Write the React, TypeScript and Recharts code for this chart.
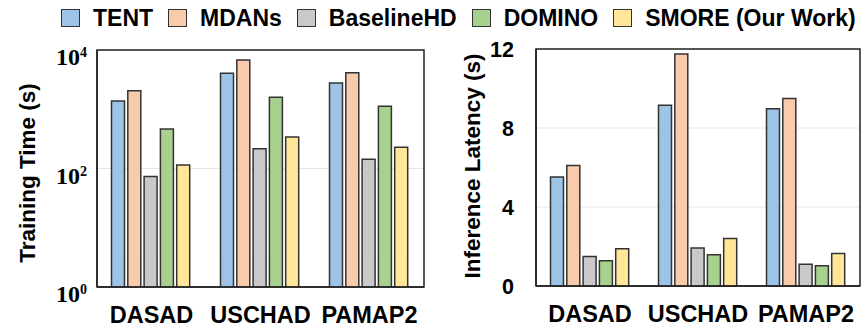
import React from "react"
import { BarChart, Bar, XAxis, YAxis, CartesianGrid, ReferenceArea } from "recharts"

// categories and series
const datasets = ["DASAD", "USCHAD", "PAMAP2"]
const methods = ["TENT", "MDANs", "BaselineHD", "DOMINO", "SMORE (Our Work)"]
const methodColors = ["#9DC3E6", "#F8CBAD", "#C9C9C9", "#A9D18E", "#FFE699"]

// training time (s), log scale
const trainTENT = [1380, 4050, 2770]
const trainMDANs = [2050, 6800, 4150]
const trainBaselineHD = [73, 215, 143]
const trainDOMINO = [465, 1590, 1125]
const trainSMORE = [115, 340, 228]

// inference latency (s)
const latTENT = [5.52, 9.15, 8.98]
const latMDANs = [6.1, 11.75, 9.49]
const latBaselineHD = [1.5, 1.92, 1.1]
const latDOMINO = [1.28, 1.58, 1.02]
const latSMORE = [1.89, 2.4, 1.65]

// tick values and labels
const trainTicks = [1, 100, 10000]
const trainTickExp = ["0", "2", "4"]
const latTicks = [0, 4, 8, 12]
const latTickLabels = ["0", "4", "8", "12"]

const keys = ["m0", "m1", "m2", "m3", "m4"]

const trainData = datasets.map((name, i) => ({
  name,
  m0: trainTENT[i],
  m1: trainMDANs[i],
  m2: trainBaselineHD[i],
  m3: trainDOMINO[i],
  m4: trainSMORE[i]
}))

const latData = datasets.map((name, i) => ({
  name,
  m0: latTENT[i],
  m1: latMDANs[i],
  m2: latBaselineHD[i],
  m3: latDOMINO[i],
  m4: latSMORE[i]
}))

const SANS = "'Liberation Sans', Arial, sans-serif"
const SERIF = "'Liberation Serif', 'Times New Roman', serif"
const EDGE = "#333"

function CategoryTick({ x, y, payload }: any) {
  return (
    <text x={x} y={y + 36} textAnchor="middle" fontFamily={SANS} fontWeight="bold" fontSize={23.5} fill="#000">
      {payload.value}
    </text>
  )
}

function LogTick({ x, y, payload }: any) {
  const idx = trainTicks.indexOf(payload.value)
  return (
    <text x={x - 10} y={y + 15} textAnchor="end" fontFamily={SERIF} fontWeight="bold" fontSize={24} fill="#000">
      <tspan>10</tspan>
      <tspan dy={-8} fontSize={14}>{trainTickExp[idx]}</tspan>
    </text>
  )
}

function LinearTick({ x, y, payload }: any) {
  const idx = latTicks.indexOf(payload.value)
  return (
    <text x={x - 22} y={y + 7.5} textAnchor="end" fontFamily={SANS} fontWeight="bold" fontSize={21.5} fill="#000">
      {latTickLabels[idx]}
    </text>
  )
}

function AxisTitle({ text, x, y }: { text: string; x: number; y: number }) {
  return (
    <text
      x={x}
      y={y}
      transform={`rotate(-90, ${x}, ${y})`}
      textAnchor="middle"
      dominantBaseline="central"
      fontFamily={SANS}
      fontWeight="bold"
      fontSize={22.5}
      fill="#000"
    >
      {text}
    </text>
  )
}

function Legend() {
  return (
    <div
      style={{
        position: "absolute",
        left: 61,
        top: 9,
        height: 18,
        display: "flex",
        alignItems: "center",
        gap: 15,
        fontFamily: SANS,
        fontWeight: "bold",
        fontSize: 23,
        whiteSpace: "nowrap"
      }}
    >
      {methods.map((m, i) => (
        <div key={m} style={{ display: "flex", alignItems: "center" }}>
          <div
            style={{
              width: 19,
              height: 18,
              boxSizing: "border-box",
              border: `1.5px solid ${EDGE}`,
              background: methodColors[i],
              marginRight: 13
            }}
          />
          <span style={{ lineHeight: "18px" }}>{m}</span>
        </div>
      ))}
    </div>
  )
}

export default function App() {
  return (
    <div style={{ position: "absolute", left: 0, top: 0, width: 861, height: 328, background: "#fff" }}>
      <Legend />

      {/* training time, log scale */}
      <div style={{ position: "absolute", left: 0, top: 0 }}>
        <BarChart
          width={440}
          height={328}
          data={trainData}
          margin={{ top: 50, right: 16, bottom: 0, left: 0 }}
          barCategoryGap={14.5}
          barGap={3.3}
        >
          <CartesianGrid vertical={false} stroke="#e6e6e6" />
          <ReferenceArea y1={1} y2={10000} fill="none" stroke="#222" strokeWidth={1.5} ifOverflow="visible" />
          <XAxis
            dataKey="name"
            height={41}
            tickLine={false}
            tickSize={0}
            tickMargin={0}
            axisLine={{ stroke: "#222", strokeWidth: 1.5 }}
            tick={<CategoryTick />}
          />
          <YAxis
            scale="log"
            domain={[1, 10000]}
            ticks={trainTicks}
            allowDataOverflow
            width={97}
            tickLine={false}
            tickSize={0}
            tickMargin={0}
            axisLine={{ stroke: "#222", strokeWidth: 1.5 }}
            tick={<LogTick />}
            label={{ content: () => <AxisTitle text="Training Time (s)" x={27} y={173} /> }}
          />
          {keys.map((k, i) => (
            <Bar
              key={k}
              dataKey={k}
              name={methods[i]}
              fill={methodColors[i]}
              stroke={EDGE}
              strokeWidth={1.5}
              isAnimationActive={false}
            />
          ))}
        </BarChart>
      </div>

      {/* inference latency */}
      <div style={{ position: "absolute", left: 440, top: 0 }}>
        <BarChart
          width={421}
          height={328}
          data={latData}
          margin={{ top: 49, right: 1, bottom: 0, left: 0 }}
          barCategoryGap={14.5}
          barGap={3.3}
        >
          <CartesianGrid vertical={false} stroke="#e6e6e6" />
          <ReferenceArea y1={0} y2={12} fill="none" stroke="#222" strokeWidth={1.5} ifOverflow="visible" />
          <XAxis
            dataKey="name"
            height={42}
            tickLine={false}
            tickSize={0}
            tickMargin={0}
            axisLine={{ stroke: "#222", strokeWidth: 1.5 }}
            tick={<CategoryTick />}
          />
          <YAxis
            domain={[0, 12]}
            ticks={latTicks}
            width={96}
            tickLine={false}
            tickSize={0}
            tickMargin={0}
            axisLine={{ stroke: "#222", strokeWidth: 1.5 }}
            tick={<LinearTick />}
            label={{ content: () => <AxisTitle text="Inference Latency (s)" x={32} y={166} /> }}
          />
          {keys.map((k, i) => (
            <Bar
              key={k}
              dataKey={k}
              name={methods[i]}
              fill={methodColors[i]}
              stroke={EDGE}
              strokeWidth={1.5}
              isAnimationActive={false}
            />
          ))}
        </BarChart>
      </div>
    </div>
  )
}
